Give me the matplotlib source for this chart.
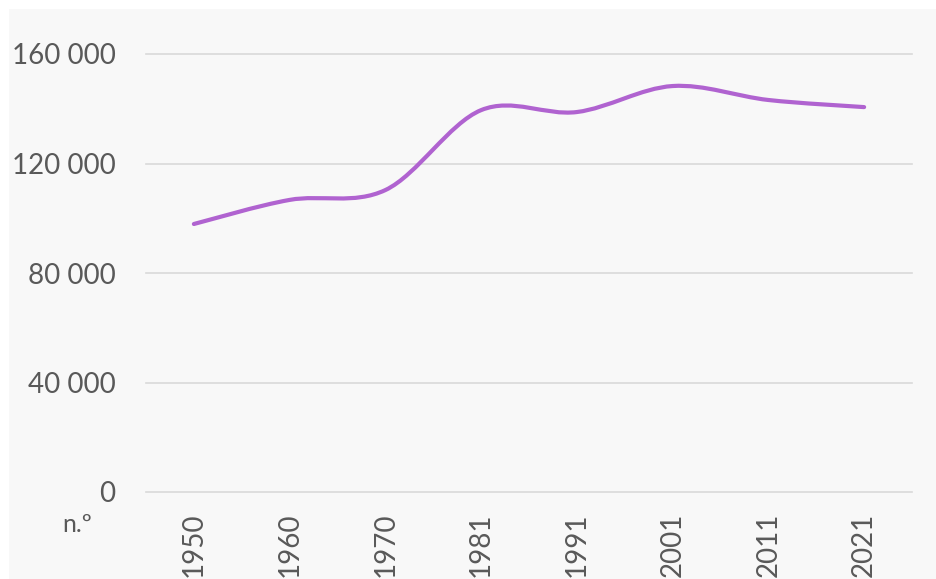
import matplotlib
matplotlib.use("Agg")
import matplotlib.pyplot as plt
from matplotlib.path import Path
from matplotlib.patches import PathPatch, Rectangle
from matplotlib.ticker import FuncFormatter

years = ["1950", "1960", "1970", "1981", "1991", "2001", "2011", "2021"]
population = [97900, 106700, 110300, 139500, 138800, 148300, 143200, 140600]
yticks = [0, 40000, 80000, 120000, 160000]

line_color = "#B063D0"
text_color = "#595959"
grid_color = "#D9D9D9"
bg_color = "#F8F8F8"

plt.rcParams["font.family"] = ["Lato", "DejaVu Sans"]

fig = plt.figure(figsize=(9.36, 5.79), dpi=100)
fig.patch.set_facecolor("white")
fig.patches.append(Rectangle((9 / 936, 0), 1, 1 - 9 / 579, transform=fig.transFigure,
                             facecolor=bg_color, edgecolor="none", zorder=-10))

ax = fig.add_axes([146 / 936, 87 / 579, 766 / 936, 438 / 579])
ax.set_facecolor("none")

# smoothed line, Excel style (Catmull-Rom as cubic Bezier)
xs = list(range(len(years)))
pts = list(zip(xs, population))
verts = [pts[0]]
codes = [Path.MOVETO]
for i in range(len(pts) - 1):
    p0 = pts[i - 1] if i > 0 else pts[i]
    p1 = pts[i]
    p2 = pts[i + 1]
    p3 = pts[i + 2] if i + 2 < len(pts) else pts[i + 1]
    c1 = (p1[0] + (p2[0] - p0[0]) / 6, p1[1] + (p2[1] - p0[1]) / 6)
    c2 = (p2[0] - (p3[0] - p1[0]) / 6, p2[1] - (p3[1] - p1[1]) / 6)
    verts += [c1, c2, p2]
    codes += [Path.CURVE4] * 3
ax.add_patch(PathPatch(Path(verts, codes), facecolor="none", edgecolor=line_color,
                       lw=3, capstyle="round", zorder=3))

ax.set_xlim(-0.5, len(years) - 0.5)
ax.set_ylim(0, 160000)
ax.set_xticks(xs)
ax.set_xticklabels(years, rotation=90)
ax.set_yticks(yticks)
ax.yaxis.set_major_formatter(FuncFormatter(lambda v, p: f"{int(v):,}".replace(",", " ")))

ax.grid(axis="y", color=grid_color, lw=1.2)
ax.set_axisbelow(True)
for gl in ax.get_ygridlines():
    gl.set_clip_on(False)
for s in ax.spines.values():
    s.set_visible(False)
ax.tick_params(axis="both", length=0, labelsize=20, labelcolor=text_color)
ax.tick_params(axis="y", pad=22)
ax.tick_params(axis="x", pad=15)

fig.text(92 / 936, 1 - 524 / 579, "n.º", ha="right", va="center", fontsize=18, color=text_color)

fig.savefig("out.png", dpi=100, facecolor=fig.get_facecolor())
